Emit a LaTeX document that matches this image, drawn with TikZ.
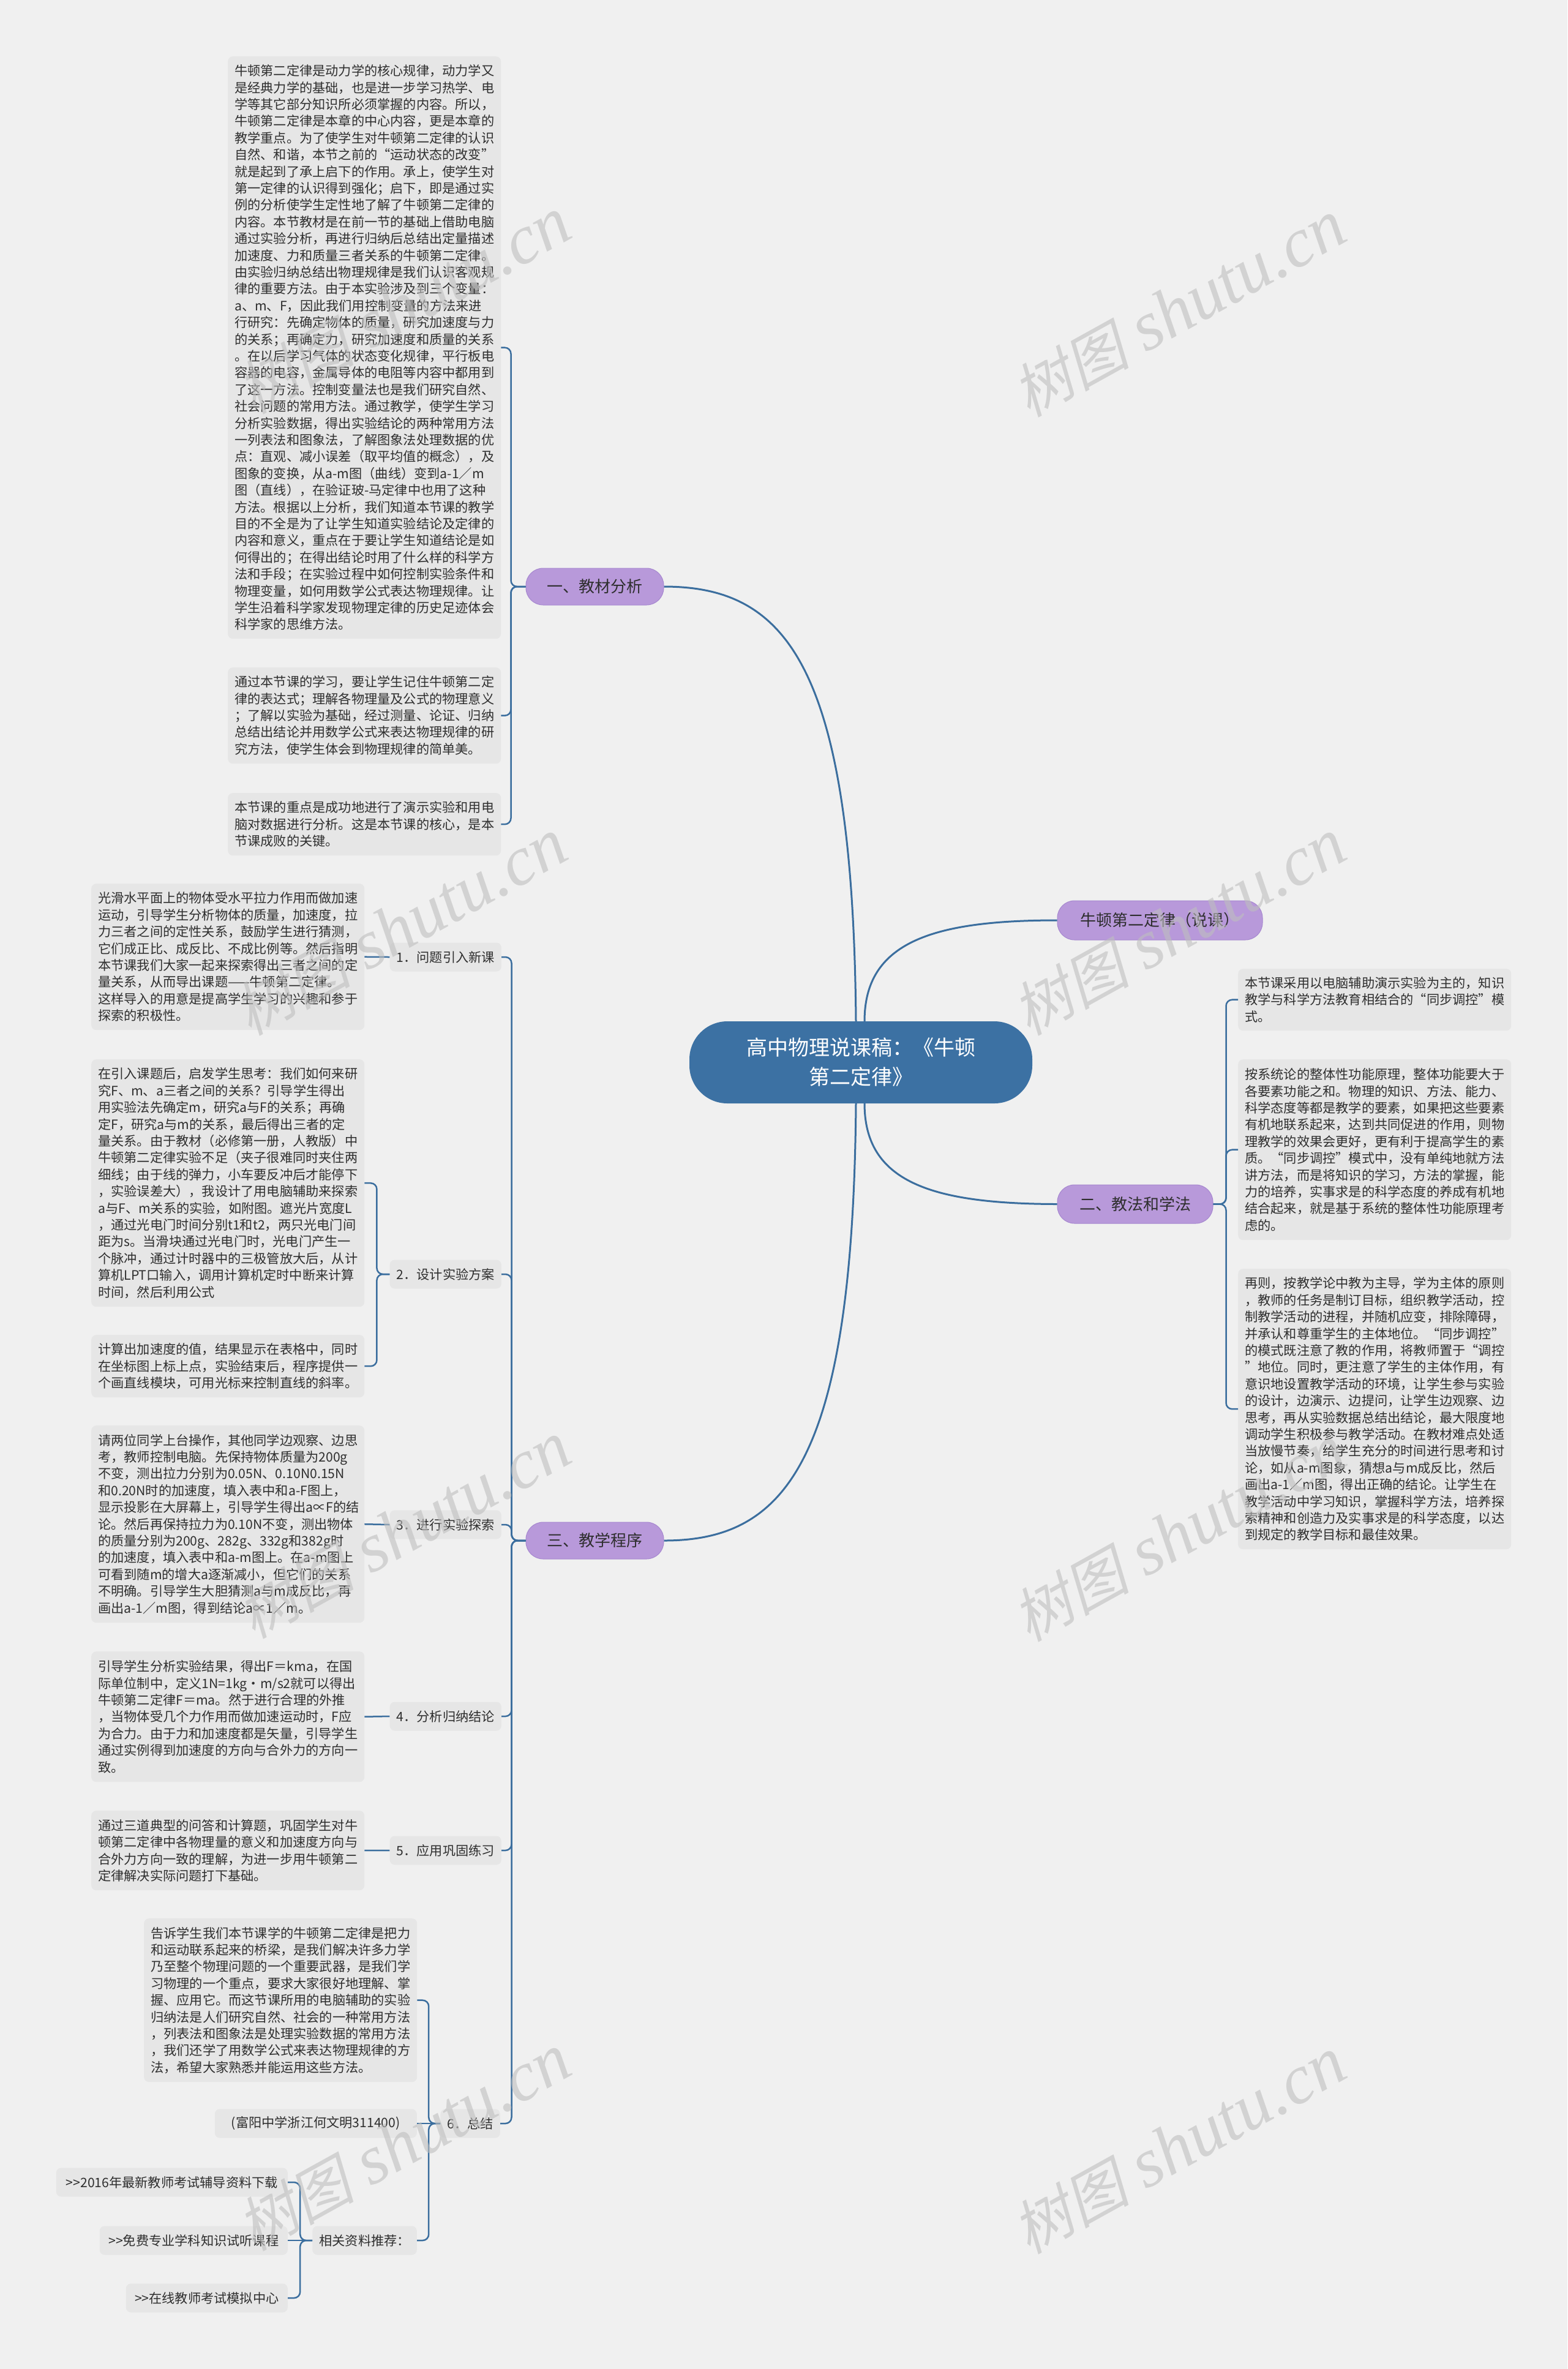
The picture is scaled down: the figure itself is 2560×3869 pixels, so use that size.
\documentclass[tikz,border=0pt]{standalone}
\usepackage{fontspec}
\setmainfont{Noto Sans CJK SC}
\newfontfamily\wmcjk[FakeSlant=0.22]{Noto Sans CJK SC}
\newfontfamily\wmlat{Liberation Serif}
\definecolor{bg}{HTML}{F0F0F0}
\definecolor{boxc}{HTML}{E6E6E6}
\definecolor{txt}{HTML}{2E2E2E}
\definecolor{lineblue}{HTML}{3B6E9E}
\definecolor{rootc}{HTML}{3C71A3}
\definecolor{lav}{HTML}{B899DA}
\definecolor{lavd}{HTML}{A687CF}
\definecolor{wmc}{HTML}{BEBEBE}
\begin{document}
\begin{tikzpicture}[x=1pt,y=-1pt,
  tbox/.style={fill=boxc, rounded corners=8pt, inner xsep=11pt, inner ysep=0pt, text=txt, align=left,
    font=\fontsize{21.2}{27.4}\selectfont, anchor=north west, text width=#1},
  lab/.style={fill=boxc, rounded corners=8pt, inner xsep=11pt, inner ysep=0pt, minimum height=47pt,
    text=txt, font=\fontsize{21.2}{27.4}\selectfont},
  lvone/.style={fill=lav, draw=lavd, line width=1pt, rounded corners=28pt, text=txt,
    font=\fontsize{26}{32}\selectfont},
  conn/.style={draw=lineblue, line width=2.5pt, rounded corners=10pt},
  mainc/.style={draw=lineblue, line width=3pt},
  wm/.style={text=wmc, opacity=0.6, inner sep=0pt}
]
\useasboundingbox (0,0) rectangle (2560,3869);
\fill[bg] (0,0) rectangle (2560,3869);

% ---------- root and level one ----------
\node[fill=rootc, rounded corners=62pt, text=white, align=center, minimum width=560pt, minimum height=134pt,
  font=\fontsize{34}{48}\selectfont] (root) at (1406,1735) {高中物理说课稿：《牛顿\\第二定律》};
\node[lvone, minimum width=225pt, minimum height=60pt] (L1) at (971.5,958) {一、教材分析};
\node[lvone, minimum width=225pt, minimum height=60pt] (L3) at (971.5,2516) {三、教学程序};
\node[lvone, minimum width=335pt, minimum height=64pt] (N) at (1894.5,1503) {牛顿第二定律（说课）};
\node[lvone, minimum width=254pt, minimum height=63pt] (L2) at (1854,1966.5) {二、教法和学法};

% ---------- 一、教材分析 ----------
\node[tbox=424pt, minimum height=951pt] (a1) at (372,92) {牛顿第二定律是动力学的核心规律，动力学又\\
是经典力学的基础，也是进一步学习热学、电\\
学等其它部分知识所必须掌握的内容。所以，\\
牛顿第二定律是本章的中心内容，更是本章的\\
教学重点。为了使学生对牛顿第二定律的认识\\
自然、和谐，本节之前的“运动状态的改变”\\
就是起到了承上启下的作用。承上，使学生对\\
第一定律的认识得到强化；启下，即是通过实\\
例的分析使学生定性地了解了牛顿第二定律的\\
内容。本节教材是在前一节的基础上借助电脑\\
通过实验分析，再进行归纳后总结出定量描述\\
加速度、力和质量三者关系的牛顿第二定律。\\
由实验归纳总结出物理规律是我们认识客观规\\
律的重要方法。由于本实验涉及到三个变量：\\
a、m、F，因此我们用控制变量的方法来进\\
行研究：先确定物体的质量，研究加速度与力\\
的关系；再确定力，研究加速度和质量的关系\\
。在以后学习气体的状态变化规律，平行板电\\
容器的电容，金属导体的电阻等内容中都用到\\
了这一方法。控制变量法也是我们研究自然、\\
社会问题的常用方法。通过教学，使学生学习\\
分析实验数据，得出实验结论的两种常用方法\\
一列表法和图象法，了解图象法处理数据的优\\
点：直观、减小误差（取平均值的概念），及\\
图象的变换，从a-m图（曲线）变到a-1／m\\
图（直线），在验证玻-马定律中也用了这种\\
方法。根据以上分析，我们知道本节课的教学\\
目的不全是为了让学生知道实验结论及定律的\\
内容和意义，重点在于要让学生知道结论是如\\
何得出的；在得出结论时用了什么样的科学方\\
法和手段；在实验过程中如何控制实验条件和\\
物理变量，如何用数学公式表达物理规律。让\\
学生沿着科学家发现物理定律的历史足迹体会\\
科学家的思维方法。};
\node[tbox=424pt, minimum height=157pt] (a2) at (372,1090) {通过本节课的学习，要让学生记住牛顿第二定\\
律的表达式；理解各物理量及公式的物理意义\\
；了解以实验为基础，经过测量、论证、归纳\\
总结出结论并用数学公式来表达物理规律的研\\
究方法，使学生体会到物理规律的简单美。};
\node[tbox=424pt, minimum height=102pt] (a3) at (372,1295) {本节课的重点是成功地进行了演示实验和用电\\
脑对数据进行分析。这是本节课的核心，是本\\
节课成败的关键。};
\draw[conn] (a1.east) -| ([xshift=-24pt]L1.west) -- (L1.west);
\draw[conn] (a2.east) -| ([xshift=-24pt]L1.west) -- (L1.west);
\draw[conn] (a3.east) -| ([xshift=-24pt]L1.west) -- (L1.west);

% ---------- 二、教法和学法 ----------
\node[tbox=424pt, minimum height=101pt] (r1) at (2022,1582) {本节课采用以电脑辅助演示实验为主的，知识\\
教学与科学方法教育相结合的“同步调控”模\\
式。};
\node[tbox=424pt, minimum height=295pt] (r2) at (2022,1730) {按系统论的整体性功能原理，整体功能要大于\\
各要素功能之和。物理的知识、方法、能力、\\
科学态度等都是教学的要素，如果把这些要素\\
有机地联系起来，达到共同促进的作用，则物\\
理教学的效果会更好，更有利于提高学生的素\\
质。“同步调控”模式中，没有单纯地就方法\\
讲方法，而是将知识的学习，方法的掌握，能\\
力的培养，实事求是的科学态度的养成有机地\\
结合起来，就是基于系统的整体性功能原理考\\
虑的。};
\node[tbox=424pt, minimum height=458pt] (r3) at (2022,2072) {再则，按教学论中教为主导，学为主体的原则\\
，教师的任务是制订目标，组织教学活动，控\\
制教学活动的进程，并随机应变，排除障碍，\\
并承认和尊重学生的主体地位。“同步调控”\\
的模式既注意了教的作用，将教师置于“调控\\
”地位。同时，更注意了学生的主体作用，有\\
意识地设置教学活动的环境，让学生参与实验\\
的设计，边演示、边提问，让学生边观察、边\\
思考，再从实验数据总结出结论，最大限度地\\
调动学生积极参与教学活动。在教材难点处适\\
当放慢节奏，给学生充分的时间进行思考和讨\\
论，如从a-m图象，猜想a与m成反比，然后\\
画出a-1／m图，得出正确的结论。让学生在\\
教学活动中学习知识，掌握科学方法，培养探\\
索精神和创造力及实事求是的科学态度，以达\\
到规定的教学目标和最佳效果。};
\draw[conn] (r1.west) -| ([xshift=21pt]L2.east) -- (L2.east);
\draw[conn] (r2.west) -| ([xshift=21pt]L2.east) -- (L2.east);
\draw[conn] (r3.west) -| ([xshift=21pt]L2.east) -- (L2.east);

% ---------- 三、教学程序 ----------
\node[lab, anchor=east] (s1) at (819,1563) {1．问题引入新课};
\node[lab, anchor=east] (s2) at (819,2081) {2．设计实验方案};
\node[lab, anchor=east] (s3) at (819,2490) {3．进行实验探索};
\node[lab, anchor=east] (s4) at (819,2803) {4．分析归纳结论};
\node[lab, anchor=east] (s5) at (819,3022) {5．应用巩固练习};
\node[lab, anchor=east] (s6) at (817,3468) {6．总结};
\foreach \s in {s1,s2,s3,s4,s5,s6}
  \draw[conn] (\s.east) -| ([xshift=-23pt]L3.west) -- (L3.west);

\node[tbox=424pt, minimum height=239pt] (p1) at (149,1443) {光滑水平面上的物体受水平拉力作用而做加速\\
运动，引导学生分析物体的质量，加速度，拉\\
力三者之间的定性关系，鼓励学生进行猜测，\\
它们成正比、成反比、不成比例等。然后指明\\
本节课我们大家一起来探索得出三者之间的定\\
量关系，从而导出课题——牛顿第二定律。\\
这样导入的用意是提高学生学习的兴趣和参于\\
探索的积极性。};
\draw[conn] (s1.west) -- (p1.east);

\node[tbox=424pt, minimum height=404pt] (p2a) at (149,1730) {在引入课题后，启发学生思考：我们如何来研\\
究F、m、a三者之间的关系？引导学生得出\\
用实验法先确定m，研究a与F的关系；再确\\
定F，研究a与m的关系，最后得出三者的定\\
量关系。由于教材（必修第一册，人教版）中\\
牛顿第二定律实验不足（夹子很难同时夹住两\\
细线；由于线的弹力，小车要反冲后才能停下\\
，实验误差大），我设计了用电脑辅助来探索\\
a与F、m关系的实验，如附图。遮光片宽度L\\
，通过光电门时间分别t1和t2，两只光电门间\\
距为s。当滑块通过光电门时，光电门产生一\\
个脉冲，通过计时器中的三极管放大后，从计\\
算机LPT口输入，调用计算机定时中断来计算\\
时间，然后利用公式};
\node[tbox=424pt, minimum height=102pt] (p2b) at (149,2180) {计算出加速度的值，结果显示在表格中，同时\\
在坐标图上标上点，实验结束后，程序提供一\\
个画直线模块，可用光标来控制直线的斜率。};
\draw[conn] (p2a.east) -| ([xshift=-21pt]s2.west) -- (s2.west);
\draw[conn] (p2b.east) -| ([xshift=-21pt]s2.west) -- (s2.west);

\node[tbox=424pt, minimum height=322pt] (p3) at (149,2328) {请两位同学上台操作，其他同学边观察、边思\\
考，教师控制电脑。先保持物体质量为200g\\
不变，测出拉力分别为0.05N、0.10N0.15N\\
和0.20N时的加速度，填入表中和a-F图上，\\
显示投影在大屏幕上，引导学生得出a∝F的结\\
论。然后再保持拉力为0.10N不变，测出物体\\
的质量分别为200g、282g、332g和382g时\\
的加速度，填入表中和a-m图上。在a-m图上\\
可看到随m的增大a逐渐减小，但它们的关系\\
不明确。引导学生大胆猜测a与m成反比，再\\
画出a-1／m图，得到结论a∝1／m。};
\draw[conn] (s3.west) -- (p3.east);

\node[tbox=424pt, minimum height=213pt] (p4) at (149,2697) {引导学生分析实验结果，得出F＝kma，在国\\
际单位制中，定义1N=1kg·m/s2就可以得出\\
牛顿第二定律F＝ma。然于进行合理的外推\\
，当物体受几个力作用而做加速运动时，F应\\
为合力。由于力和加速度都是矢量，引导学生\\
通过实例得到加速度的方向与合外力的方向一\\
致。};
\draw[conn] (s4.west) -- (p4.east);

\node[tbox=424pt, minimum height=130pt] (p5) at (149,2957) {通过三道典型的问答和计算题，巩固学生对牛\\
顿第二定律中各物理量的意义和加速度方向与\\
合外力方向一致的理解，为进一步用牛顿第二\\
定律解决实际问题打下基础。};
\draw[conn] (s5.west) -- (p5.east);

\node[tbox=424pt, minimum height=267pt] (p6) at (235,3133) {告诉学生我们本节课学的牛顿第二定律是把力\\
和运动联系起来的桥梁，是我们解决许多力学\\
乃至整个物理问题的一个重要武器，是我们学\\
习物理的一个重点，要求大家很好地理解、掌\\
握、应用它。而这节课所用的电脑辅助的实验\\
归纳法是人们研究自然、社会的一种常用方法\\
，列表法和图象法是处理实验数据的常用方法\\
，我们还学了用数学公式来表达物理规律的方\\
法，希望大家熟悉并能运用这些方法。};
\node[lab, anchor=east, minimum width=330pt] (fy) at (681,3468) {(富阳中学浙江何文明311400)};
\node[lab, anchor=east, minimum width=170pt] (rel) at (681,3659) {相关资料推荐：};
\draw[conn] (p6.east) -| ([xshift=-19pt]s6.west) -- (s6.west);
\draw[conn] (fy.east) -- (s6.west);
\draw[conn] (rel.east) -| ([xshift=-19pt]s6.west) -- (s6.west);

\node[lab, anchor=east, minimum width=378pt] (k1) at (470,3564) {>\kern0pt>2016年最新教师考试辅导资料下载};
\node[lab, anchor=east, minimum width=307pt] (k2) at (470,3659) {>\kern0pt>免费专业学科知识试听课程};
\node[lab, anchor=east, minimum width=264pt] (k3) at (470,3753) {>\kern0pt>在线教师考试模拟中心};
\draw[conn] (k1.east) -| ([xshift=-20pt]rel.west) -- (rel.west);
\draw[conn] (k2.east) -- (rel.west);
\draw[conn] (k3.east) -| ([xshift=-20pt]rel.west) -- (rel.west);

% ---------- root connectors ----------
\draw[mainc] ([xshift=-8pt]root.north) .. controls (1393,1086) and (1284,958) .. (L1.east);
\draw[mainc] ([xshift=-8pt]root.south) .. controls (1393,2386) and (1284,2516) .. (L3.east);
\draw[mainc] ([xshift=6pt]root.north) .. controls (1412,1540) and (1520,1503) .. (N.west);
\draw[mainc] ([xshift=6pt]root.south) .. controls (1412,1930) and (1520,1966) .. (L2.west);

% ---------- watermarks ----------
\foreach \wx/\wy [count=\i] in {660/500, 1926/505, 654/1515, 1926/1515, 660/2500, 1926/2505, 660/3500, 1926/3505}
  \node[wm, rotate=29] (wm\i) at (\wx,\wy) {{\wmcjk\fontsize{96}{96}\selectfont 树图}\hspace{26pt}{\wmlat\itshape\fontsize{114}{114}\selectfont shutu.cn}};
\end{tikzpicture}
\end{document}
